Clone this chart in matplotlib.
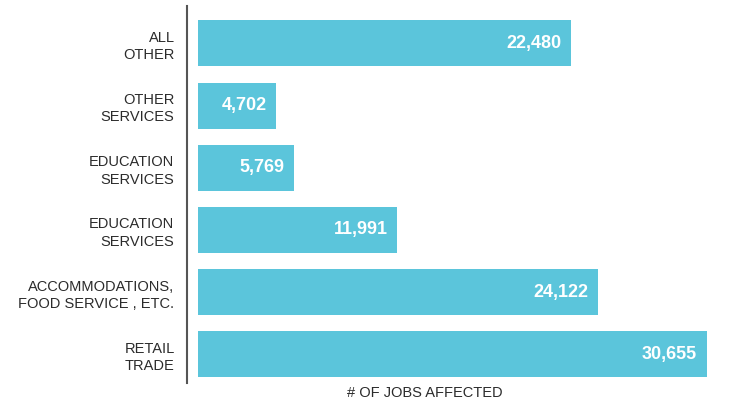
import matplotlib.pyplot as plt

categories = [
    "RETAIL\nTRADE",
    "ACCOMMODATIONS,\nFOOD SERVICE , ETC.",
    "EDUCATION\nSERVICES",
    "EDUCATION\nSERVICES",
    "OTHER\nSERVICES",
    "ALL\nOTHER",
]
jobs = [30655, 24122, 11991, 5769, 4702, 22480]

bar_color = "#5bc5db"
text_color = "#2b2b2b"

plt.rcParams["font.family"] = ["Liberation Sans", "DejaVu Sans"]

fig = plt.figure(figsize=(7.49, 4.04), dpi=100)
ax = fig.add_axes([187 / 749, 21 / 404, 562 / 749, 377 / 404])

pos = list(range(len(jobs)))
ax.barh(pos, jobs, height=0.74, color=bar_color)

# value labels sit inside the bar end
for p, v in zip(pos, jobs):
    ax.annotate(f"{v:,}", xy=(v, p), xytext=(-7, 0), textcoords="offset points",
                ha="right", va="center", color="white", fontsize=13, fontweight="bold")

ax.set_xlim(-680, 33200)
ax.set_ylim(-0.46, 5.6)
ax.set_yticks(pos)
ax.set_yticklabels(categories, fontsize=10.5, color=text_color, linespacing=1.3)
ax.tick_params(axis="y", length=0, pad=9)
ax.set_xticks([])

for s in ["top", "right", "bottom"]:
    ax.spines[s].set_visible(False)
ax.spines["left"].set_color("#555555")
ax.spines["left"].set_linewidth(1.5)

fig.text(425 / 749, 11 / 404, "# OF JOBS AFFECTED", ha="center", va="center",
         fontsize=10.5, color=text_color)

fig.savefig("out.png", dpi=100)
